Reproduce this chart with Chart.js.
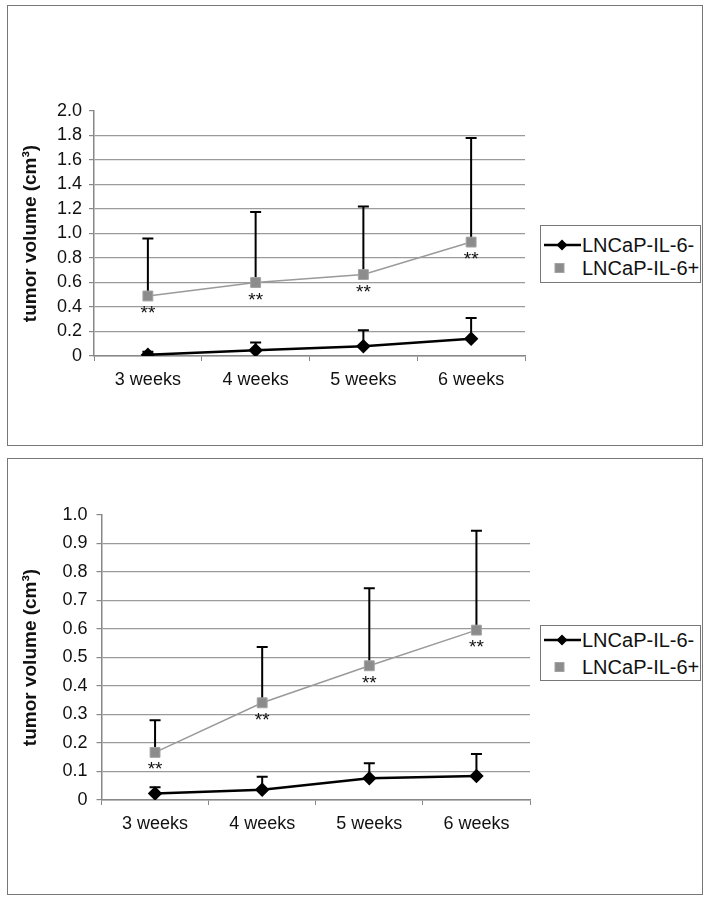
<!DOCTYPE html>
<html>
<head>
<meta charset="utf-8">
<script src="https://cdn.jsdelivr.net/npm/chart.js@4/dist/chart.umd.min.js"></script>
<style>
  body { margin: 0; width: 708px; height: 899px; position: relative; background: #fff; overflow: hidden;
         font-family: "Liberation Sans", Arial, sans-serif; color: #111; }
  .panel { position: absolute; left: 7px; width: 696px; border: 1px solid #777; box-sizing: border-box; }
  canvas { position: absolute; left: 0; }
  .legend { position: absolute; left: 540px; width: 161px; border: 1px solid #777; box-sizing: border-box;
            background: #fff; font-size: 20px; }
  .legend .row { position: absolute; left: 0; height: 22px; width: 160px; }
  .legend svg { position: absolute; left: 2px; top: 0; }
  .legend span { position: absolute; left: 41px; top: 0; line-height: 22px; white-space: nowrap; }
</style>
</head>
<body>
<div class="panel" style="top:5px;height:441px"></div>
<div class="panel" style="top:458px;height:437px"></div>
<canvas id="chartTop" width="708" height="450" style="top:0"></canvas>
<canvas id="chartBottom" width="708" height="449" style="top:450px"></canvas>

<div class="legend" id="legendTop" style="top:225px;height:58px"></div>
<div class="legend" id="legendBottom" style="top:625px;height:56px"></div>

<script>
// categories and series names
const weeks = ['3 weeks', '4 weeks', '5 weeks', '6 weeks'];
const seriesNames = ['LNCaP-IL-6-', 'LNCaP-IL-6+'];
const signif = ['**', '**', '**', '**'];

// upper panel (mean and upper SD)
const topNeg = [0.01, 0.047, 0.08, 0.14];
const topNegSd = [0.025, 0.063, 0.13, 0.17];
const topPos = [0.49, 0.60, 0.665, 0.93];
const topPosSd = [0.47, 0.575, 0.555, 0.85];
const topYLabels = ['0', '0.2', '0.4', '0.6', '0.8', '1.0', '1.2', '1.4', '1.6', '1.8', '2.0'];

// lower panel
const botNeg = [0.023, 0.036, 0.076, 0.084];
const botNegSd = [0.022, 0.046, 0.053, 0.077];
const botPos = [0.167, 0.341, 0.471, 0.596];
const botPosSd = [0.113, 0.196, 0.272, 0.349];
const botYLabels = ['0', '0.1', '0.2', '0.3', '0.4', '0.5', '0.6', '0.7', '0.8', '0.9', '1.0'];

const FONT = '"Liberation Sans", Arial, sans-serif';

// upward error bars, drawn under the markers
const errorBars = {
  id: 'errorBars',
  beforeDatasetsDraw(chart) {
    const ctx = chart.ctx;
    const y = chart.scales.y;
    ctx.save();
    ctx.strokeStyle = '#000';
    ctx.lineWidth = 2;
    chart.data.datasets.forEach((ds, i) => {
      const meta = chart.getDatasetMeta(i);
      meta.data.forEach((pt, j) => {
        const yTop = y.getPixelForValue(ds.data[j] + ds.errorPlus[j]);
        ctx.beginPath();
        ctx.moveTo(pt.x, pt.y);
        ctx.lineTo(pt.x, yTop);
        ctx.moveTo(pt.x - 5.5, yTop);
        ctx.lineTo(pt.x + 5.5, yTop);
        ctx.stroke();
      });
    });
    ctx.restore();
  }
};

// ** under the IL-6+ points
const stars = {
  id: 'stars',
  afterDatasetsDraw(chart) {
    const ctx = chart.ctx;
    const meta = chart.getDatasetMeta(1);
    ctx.save();
    ctx.fillStyle = '#111';
    ctx.font = '19px ' + FONT;
    ctx.textAlign = 'center';
    ctx.textBaseline = 'alphabetic';
    meta.data.forEach((pt, j) => {
      ctx.fillText(signif[j], pt.x, pt.y + 23);
    });
    ctx.restore();
  }
};

function makeChart(id, neg, negSd, pos, posSd, yMax, yStep, yLabels, pad, yWidth, tickPad) {
  return new Chart(document.getElementById(id), {
    type: 'line',
    data: {
      labels: weeks,
      datasets: [{
        label: seriesNames[0],
        data: neg,
        errorPlus: negSd,
        borderColor: '#000',
        borderWidth: 2.5,
        pointStyle: 'rectRot',
        pointRadius: 5.5,
        pointBackgroundColor: '#000',
        pointBorderColor: '#000',
        tension: 0
      }, {
        label: seriesNames[1],
        data: pos,
        errorPlus: posSd,
        borderColor: '#9a9a9a',
        borderWidth: 1.5,
        pointStyle: 'rect',
        pointRadius: 7,
        pointBackgroundColor: '#8c8c8c',
        pointBorderColor: '#a3a3a3',
        pointBorderWidth: 1,
        tension: 0
      }]
    },
    options: {
      responsive: false,
      animation: false,
      devicePixelRatio: 1,
      layout: { padding: pad },
      plugins: { legend: { display: false }, tooltip: { enabled: false } },
      scales: {
        x: {
          offset: true,
          grid: { offset: true, drawOnChartArea: false, drawTicks: true, tickLength: 5, tickColor: '#888' },
          border: { color: '#888', width: 1.5 },
          ticks: { color: '#111', font: { family: FONT, size: 18 }, padding: 8, maxRotation: 0 },
          afterFit(s) { s.height = 40; }
        },
        y: {
          min: 0,
          max: yMax,
          ticks: {
            stepSize: yStep,
            autoSkip: false,
            color: '#111',
            font: { family: FONT, size: 18 },
            padding: tickPad,
            callback: (v, i) => yLabels[i]
          },
          grid: {
            color: c => (c.tick && c.tick.value > yMax - 1e-9) ? 'rgba(0,0,0,0)' : '#9a9a9a',
            tickColor: '#888',
            tickLength: 5,
            lineWidth: 1.2
          },
          border: { color: '#888', width: 1.5 },
          title: {
            display: true,
            text: 'tumor volume (cm³)',
            color: '#111',
            font: { family: FONT, size: 19, weight: 'bold' }
          },
          afterFit(s) { s.width = yWidth; }
        }
      }
    },
    plugins: [errorBars, stars]
  });
}

makeChart('chartTop', topNeg, topNegSd, topPos, topPosSd, 2.0, 0.2, topYLabels,
  { left: 15, right: 183, top: 111, bottom: 54 }, 79, 7);
makeChart('chartBottom', botNeg, botNegSd, botPos, botPosSd, 1.0, 0.1, botYLabels,
  { left: 15, right: 178, top: 65, bottom: 59 }, 86.5, 9);

// legends
function buildLegend(id, row1, row2) {
  const el = document.getElementById(id);
  el.innerHTML =
    '<div class="row" style="top:' + row1 + 'px">' +
      '<svg width="40" height="22"><line x1="1" y1="11" x2="38" y2="11" stroke="#000" stroke-width="2.5"/>' +
      '<polygon points="19,5.5 24.5,11 19,16.5 13.5,11" fill="#000"/></svg>' +
      '<span>' + seriesNames[0] + '</span></div>' +
    '<div class="row" style="top:' + row2 + 'px">' +
      '<svg width="40" height="22"><rect x="12" y="6.5" width="9" height="9" fill="#8c8c8c" stroke="#a3a3a3" stroke-width="1"/></svg>' +
      '<span>' + seriesNames[1] + '</span></div>';
}
buildLegend('legendTop', 8, 31);
buildLegend('legendBottom', 3, 30);
</script>
</body>
</html>
